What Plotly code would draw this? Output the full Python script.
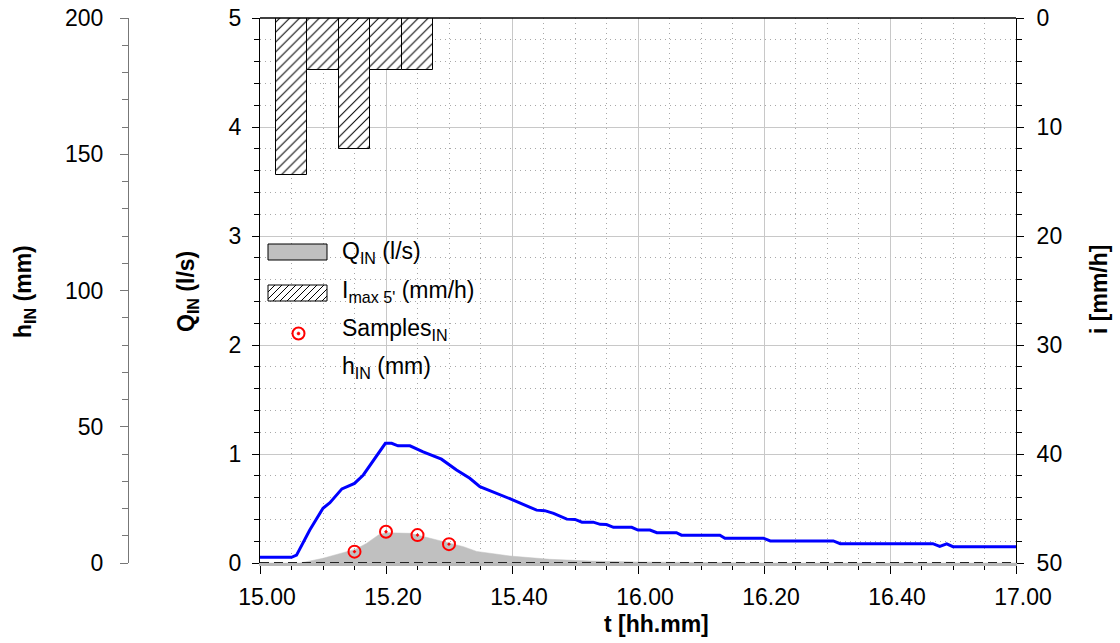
import plotly.graph_objects as go
import pandas as pd

# ---------------- data ----------------
DAY = "2021-01-01 "
T0 = pd.Timestamp(DAY + "15:00")

# 5-minute maximum rainfall intensity (mm/h), bar centres
rain_times = ["15:05", "15:10", "15:15", "15:20", "15:25"]
rain_i = [14.4, 4.8, 12.0, 4.8, 4.8]

# inflow discharge Q_IN (l/s); time in minutes after 15:00
q_t_min = [0, 6.3, 7.4, 10.0, 13.2, 15.2, 16.9, 18.8, 20.0, 22.2, 23.8, 25.9,
           29.1, 32.3, 34.4, 36.5, 39.7, 46.0, 52.4, 59.8, 70.0, 80.0, 120.0]
q_in = [0, 0, 0.012, 0.043, 0.095, 0.127, 0.18, 0.257, 0.278, 0.278, 0.272, 0.243,
        0.198, 0.15, 0.106, 0.089, 0.064, 0.034, 0.018, 0.009, 0.002, 0, 0]

# samples
sample_times = ["15:15", "15:20", "15:25", "15:30"]
sample_q = [0.104, 0.287, 0.256, 0.173]

# water level h_IN (mm); time in minutes after 15:00
h_t_min = [0, 5.0, 5.8, 7.9, 10.0, 11.1, 13.0, 15.0, 16.4, 18.0, 19.9, 20.9, 21.9,
           23.8, 25.9, 28.8, 31.2, 33.3, 34.9, 40.2, 43.9, 45.2, 46.6, 48.7, 50.0,
           51.1, 52.9, 54.0, 55.0, 56.1, 59.0, 60.0, 61.9, 63.0, 66.1, 66.9, 73.0,
           73.8, 79.9, 81.0, 91.0, 92.1, 106.8, 107.9, 109.0, 110.0, 120.0]
h_in = [2.1, 2.1, 2.9, 12.1, 20.1, 22.1, 27.2, 29.2, 32.3, 37.8, 43.9, 43.9, 43.0,
        43.0, 40.8, 38.1, 34.1, 31.1, 28.0, 23.1, 19.4, 19.2, 18.2, 16.1, 16.0,
        15.0, 15.0, 14.2, 14.1, 13.1, 13.1, 12.1, 12.1, 11.1, 11.1, 10.2, 10.2,
        9.1, 9.1, 8.1, 8.1, 7.1, 7.1, 6.1, 7.0, 6.0, 6.0]

legend_labels = ["Q<sub>IN</sub> (l/s)", "I<sub>max 5'</sub> (mm/h)",
                 "Samples<sub>IN</sub>", "h<sub>IN</sub> (mm)"]

# ---------------- helpers ----------------
def mins(lst):
    return [T0 + pd.Timedelta(minutes=m) for m in lst]

def clock(lst):
    return [pd.Timestamp(DAY + s) for s in lst]

W, H = 1120, 643
ML, MR, MT, MB = 10, 104, 18, 80
PW, PH = W - ML - MR, H - MT - MB

def px(x):
    return (x - ML) / PW

def py(y):
    return (H - MB - y) / PH

FONT = "Liberation Sans, Arial, sans-serif"
GRID = "#c8c8c8"
DOT = "#a8a8a8"
DOTDASH = "1px,4px"

fig = go.Figure()

fig.add_trace(go.Scatter(x=mins(q_t_min), y=q_in, mode="lines", fill="tozeroy",
                         fillcolor="#c0c0c0", line=dict(color="#c0c0c0", width=0.5),
                         yaxis="y", showlegend=False))

fig.add_trace(go.Bar(x=clock(rain_times), y=rain_i, base=0, width=300000,
                     marker=dict(color="white", line=dict(color="black", width=1),
                                 pattern=dict(shape="/", fgcolor="black", bgcolor="white",
                                              size=7, solidity=0.15, fillmode="replace")),
                     yaxis="y2", showlegend=False))

fig.add_trace(go.Scatter(x=clock(sample_times), y=sample_q, mode="markers",
                         marker=dict(symbol="circle-open-dot", size=12, color="red",
                                     line=dict(width=2, color="red")),
                         yaxis="y", showlegend=False, cliponaxis=False))

fig.add_trace(go.Scatter(x=mins(h_t_min), y=h_in, mode="lines",
                         line=dict(color="#0000ff", width=3), yaxis="y3", showlegend=False))

x_dom0 = px(260)
tickfont = dict(family=FONT, size=23, color="black")

fig.update_layout(
    width=W, height=H, margin=dict(l=ML, r=MR, t=MT, b=MB, autoexpand=False),
    paper_bgcolor="white", plot_bgcolor="white", showlegend=False, bargap=0,
    font=dict(family=FONT, size=23, color="black"),
    xaxis=dict(domain=[x_dom0, 1], type="date",
               range=[T0, T0 + pd.Timedelta(hours=2)],
               tick0=T0, dtick=20 * 60 * 1000, tickformat="%H.%M",
               ticks="outside", ticklen=8, tickcolor="black", tickwidth=1,
               showline=True, linecolor="#b8b8b8", linewidth=3,
               showgrid=True, gridcolor=GRID, gridwidth=1,
               tickfont=tickfont, ticklabelstandoff=3, ticklabelshift=7,
               minor=dict(dtick=5 * 60 * 1000, ticks="outside", ticklen=4,
                          tickcolor="black", showgrid=True, gridcolor=DOT,
                          griddash=DOTDASH, gridwidth=1),
               zeroline=False, automargin=False, fixedrange=True),
    yaxis=dict(range=[0, 5], dtick=1, tick0=0, ticks="outside", ticklen=7,
               tickcolor="black", showline=True, linecolor="black", linewidth=1,
               showgrid=True, gridcolor=GRID, zeroline=False,
               tickfont=tickfont, ticklabelstandoff=6,
               minor=dict(dtick=0.2, ticks="outside", ticklen=5, tickcolor="black",
                          showgrid=True, gridcolor=DOT, griddash=DOTDASH),
               anchor="x", automargin=False),
    yaxis2=dict(range=[50, 0], dtick=10, tick0=0, overlaying="y", side="right",
                anchor="x", ticks="outside", ticklen=7, tickcolor="black",
                showline=True, linecolor="black", linewidth=1, showgrid=False,
                zeroline=False, tickfont=tickfont, ticklabelstandoff=8,
                minor=dict(dtick=2, ticks="outside", ticklen=5, tickcolor="black",
                           showgrid=False),
                automargin=False),
    yaxis3=dict(range=[0, 200], dtick=50, tick0=0, overlaying="y", side="left",
                anchor="free", position=px(128), ticks="outside", ticklen=8,
                tickcolor="#777777", showline=True, linecolor="#777777", linewidth=1,
                showgrid=False, zeroline=False, tickfont=tickfont,
                ticklabelstandoff=12,
                minor=dict(dtick=10, ticks="outside", ticklen=6, tickcolor="#777777",
                           showgrid=False),
                automargin=False),
)

shapes = []
# top border
shapes.append(dict(type="line", xref="paper", yref="paper", x0=x_dom0, x1=1, y0=1, y1=1,
                   line=dict(color="black", width=1.5), layer="above"))
# dashed baseline
shapes.append(dict(type="line", xref="x", yref="y", x0=T0, x1=T0 + pd.Timedelta(hours=2),
                   y0=0, y1=0, line=dict(color="#222222", width=2, dash="9px,5px"),
                   layer="above"))

# legend symbols (pixel geometry -> paper)
lx0, lx1 = 268, 327
shapes.append(dict(type="rect", xref="paper", yref="paper", x0=px(lx0), x1=px(lx1),
                   y0=py(260), y1=py(244), fillcolor="#c0c0c0",
                   line=dict(color="black", width=1), layer="above"))
hy0, hy1 = 285, 301
hh = hy1 - hy0
segs = []
c = lx0 - hh
while c < lx1:
    xs, xe = max(c, lx0), min(c + hh, lx1)
    if xe > xs:
        ys, ye = hy1 - (xs - c), hy1 - (xe - c)
        segs.append(f"M{px(xs):.5f},{py(ys):.5f} L{px(xe):.5f},{py(ye):.5f}")
    c += 7
shapes.append(dict(type="rect", xref="paper", yref="paper", x0=px(lx0), x1=px(lx1),
                   y0=py(hy1), y1=py(hy0), fillcolor="white",
                   line=dict(color="black", width=1), layer="above"))
shapes.append(dict(type="path", xref="paper", yref="paper", path=" ".join(segs),
                   line=dict(color="black", width=1), layer="above"))
cx, cy, r = 298.5, 333.5, 6
shapes.append(dict(type="circle", xref="paper", yref="paper", x0=px(cx - r), x1=px(cx + r),
                   y0=py(cy + r), y1=py(cy - r), fillcolor="white",
                   line=dict(color="red", width=2), layer="above"))
rd = 1.5
shapes.append(dict(type="circle", xref="paper", yref="paper", x0=px(cx - rd), x1=px(cx + rd),
                   y0=py(cy + rd), y1=py(cy - rd), fillcolor="red",
                   line=dict(color="red", width=0.5), layer="above"))
fig.update_layout(shapes=shapes)

ann = []
for lab, yc in zip(legend_labels, [252, 291, 329, 367]):
    ann.append(dict(text=lab, xref="paper", yref="paper", x=px(340), y=py(yc),
                    xanchor="left", yanchor="middle", showarrow=False,
                    font=dict(family=FONT, size=23, color="black")))
titles = [("<b>h<sub>IN</sub> (mm)</b>", 25, 292, -90),
          ("<b>Q<sub>IN</sub> (l/s)</b>", 188, 292, -90),
          ("<b>i [mm/h]</b>", 1099, 290, -90),
          ("<b>t [hh.mm]</b>", 656, 624, 0)]
for txt, x, y, ang in titles:
    ann.append(dict(text=txt, xref="paper", yref="paper", x=px(x), y=py(y),
                    xanchor="center", yanchor="middle", showarrow=False, textangle=ang,
                    font=dict(family=FONT, size=23, color="black")))
fig.update_layout(annotations=ann)

fig.write_html("out.html", config={"displayModeBar": False})
